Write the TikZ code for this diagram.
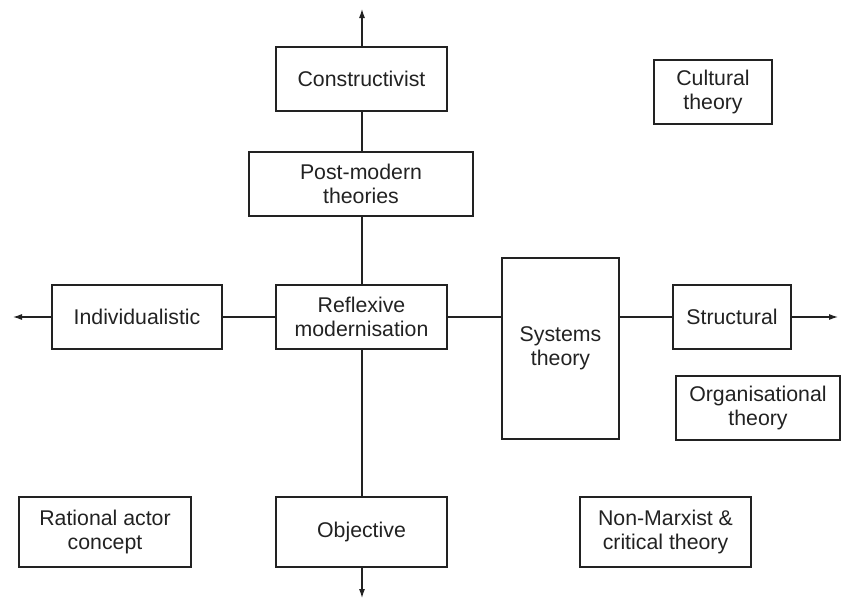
\documentclass[tikz,border=0pt]{standalone}
\usepackage{fontspec}
\setmainfont{Liberation Sans}
\usetikzlibrary{arrows.meta}
\definecolor{ink}{HTML}{222222}
\begin{document}
\begin{tikzpicture}[x=1pt,y=-1pt,
  box/.style={draw=ink,text=ink,line width=1.1pt,inner sep=0pt,align=center,
    font=\fontsize{21.3}{23.5}\selectfont},
  conn/.style={draw=ink,line width=1.1pt},
  arr/.style={draw=ink,line width=1.1pt,-{Latex[length=9pt,width=6pt]}}]
\useasboundingbox (0,0) rectangle (841,600);
\newcommand{\bx}[6]{\node[box,minimum width=#4-#2,minimum height=#5-#3] (#1) at ({(#2+#4)/2},{(#3+#5)/2}) {#6};}
\bx{con}{276}{47}{447}{111}{Constructivist}
\bx{cul}{654}{60}{772}{124}{Cultural\\theory}
\bx{post}{249}{152}{473}{216}{Post-modern\\theories}
\bx{ind}{52}{285}{222}{349}{Individualistic}
\bx{ref}{276}{285}{447}{349}{Reflexive\\modernisation}
\bx{sys}{502}{258}{619}{439}{Systems\\theory}
\bx{str}{673}{285}{791}{349}{Structural}
\bx{org}{676}{376}{840}{440}{Organisational\\theory}
\bx{rat}{19}{497}{191}{567}{Rational actor\\concept}
\bx{obj}{276}{497}{447}{567}{Objective}
\bx{nm}{580}{497}{751}{567}{Non-Marxist \&\\critical theory}
\coordinate (top) at (362,9);
\coordinate (bot) at (362,598);
\coordinate (lft) at (13,317);
\coordinate (rgt) at (838,317);
\draw[arr] (con.north -| top) -- (top);
\draw[conn] (con.south -| top) -- (post.north -| top);
\draw[conn] (post.south -| top) -- (ref.north -| top);
\draw[conn] (ref.south -| top) -- (obj.north -| top);
\draw[arr] (obj.south -| top) -- (bot);
\draw[arr] (ind.west |- lft) -- (lft);
\draw[conn] (ind.east |- lft) -- (ref.west |- lft);
\draw[conn] (ref.east |- lft) -- (sys.west |- lft);
\draw[conn] (sys.east |- lft) -- (str.west |- lft);
\draw[arr] (str.east |- lft) -- (rgt);
\end{tikzpicture}
\end{document}
